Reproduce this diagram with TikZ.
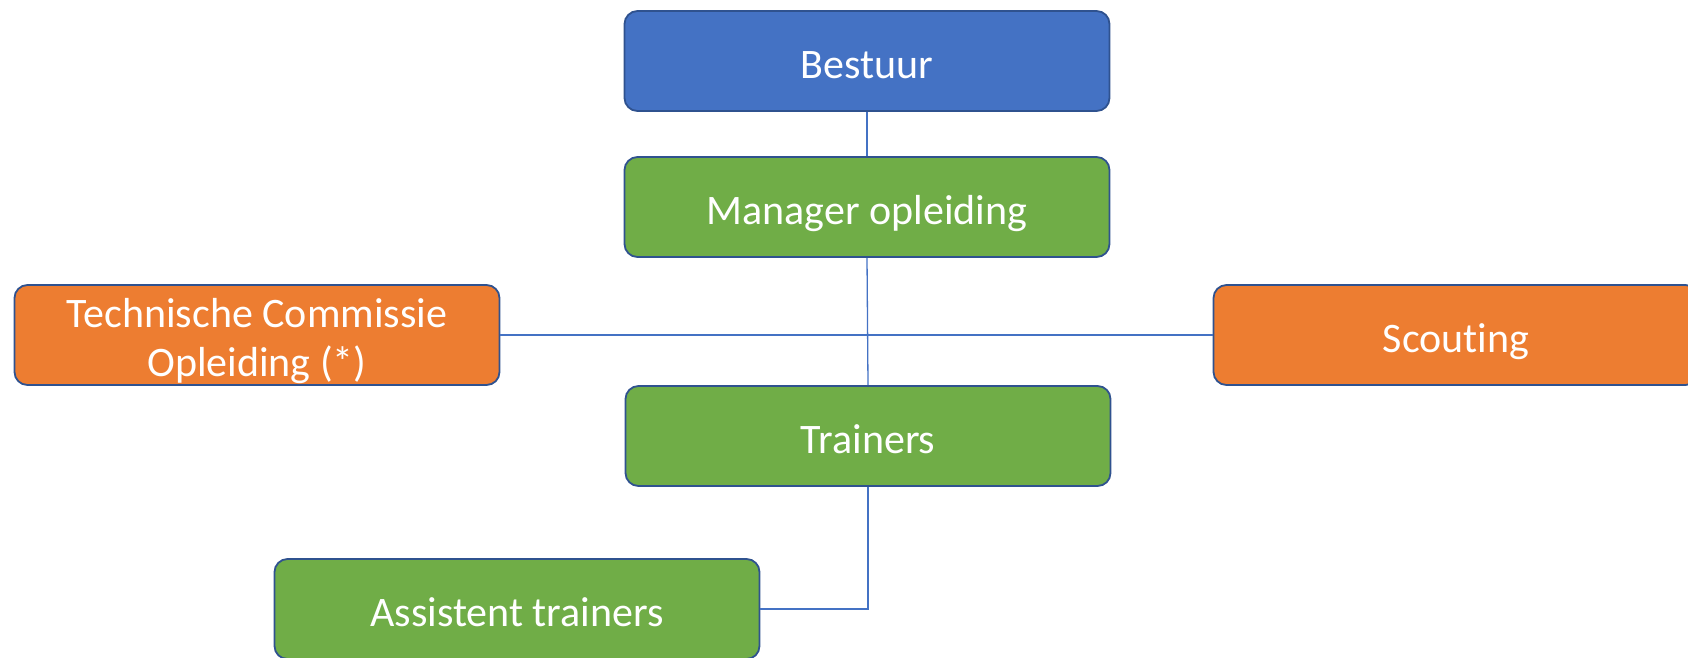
\documentclass[tikz,border=0pt]{standalone}
\usepackage{fontspec}
\setmainfont{Carlito}[Ligatures=NoCommon]
\definecolor{cblue}{HTML}{4472C4}
\definecolor{cgreen}{HTML}{70AD47}
\definecolor{corange}{HTML}{ED7D31}
\definecolor{cborder}{HTML}{2F528F}
\definecolor{cline}{HTML}{4472C4}
\begin{document}
\begin{tikzpicture}[x=1pt,y=-1pt,
  txt/.style={text=white,font=\fontsize{42}{49}\selectfont,align=center,inner sep=0pt},
  box/.style={draw=cborder,line width=1.8pt,rounded corners=13pt,txt,
    minimum width=485pt,minimum height=100pt},
  oneline/.style={text height=34pt,text depth=0pt},
  conn/.style={draw=cline,line width=1.3pt}]
\useasboundingbox (0,0) rectangle (1688,657);
\clip (0,0) rectangle (1688,657);
\node[box,oneline,fill=cblue] (bestuur) at (867,61) {Bestuur};
\node[box,oneline,fill=cgreen] (manager) at (867,207) {Manager opleiding};
\node[box,fill=corange,label={[txt,yshift=-6.5pt]center:{Technische Commissie\\Opleiding (*)}}] (tco) at (257,335) {};
\node[box,oneline,fill=corange] (scout) at (1456,335) {Scouting};
\node[box,oneline,fill=cgreen] (trainers) at (868,436) {Trainers};
\node[box,oneline,fill=cgreen] (assist) at (517,609) {Assistent trainers};
\draw[conn] (bestuur.south) -- (manager.north);
\draw[conn] (manager.south) -- (trainers.north);
\draw[conn] (tco.east) -- (scout.west);
\draw[conn] (trainers.south) |- (assist.east);
\end{tikzpicture}
\end{document}
